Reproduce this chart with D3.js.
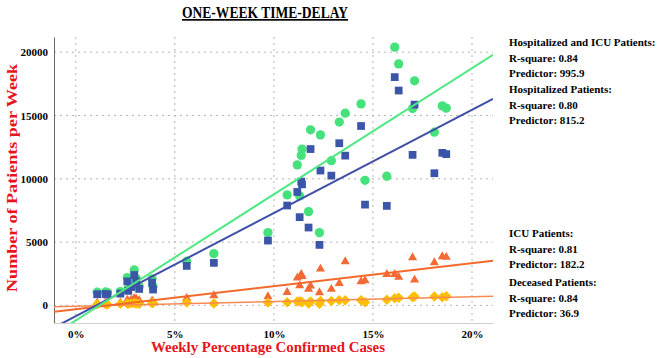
<!DOCTYPE html>
<html>
<head>
<meta charset="utf-8">
<script src="https://cdn.jsdelivr.net/npm/d3@7"></script>
<style>
  body { margin: 0; background: #fff; }
  text { font-family: "Liberation Serif", "Times New Roman", serif; font-weight: bold; }
</style>
</head>
<body>
<div id="chart"></div>
<script>
// weekly % confirmed cases (x) and patients per week for each series
var weekPct     = [1.08, 1.50, 1.60, 2.25, 2.60, 2.65, 2.80, 2.95, 3.05, 3.20, 3.85, 3.90, 5.60, 6.97, 9.70, 10.67,
                   11.18, 11.30, 11.38, 11.42, 11.75, 11.85, 12.30, 12.35, 12.90, 13.30, 13.60, 14.40, 14.60, 15.70,
                   16.10, 16.30, 17.00, 17.10, 18.10, 18.50, 18.70];
var hospIcu     = [1040, 1060, 1010, 1090, 2200, 1350, 1800, 2800, 2150, 1500, 2100, 1500, 3490, 4090, 5750, 8730,
                   11100, 8650, 11850, 12350, 7410, 13870, 5750, 13470, 11430, 14480, 15180, 15920, 9880, 10200,
                   20400, 19080, 15550, 17740, 13680, 15760, 15580];
var hospOnly    = [880, 900, 860, 930, 1900, 1150, 1450, 2400, 1900, 1300, 1800, 1250, 3120, 3360, 5120, 7890,
                   8960, 6970, 9780, 9560, 6150, 12350, 4780, 10650, 10250, 12810, 11830, 14170, 7960, 7860,
                   18030, 16970, 11890, 15860, 10440, 12050, 11950];
var icuOnly     = [200, 180, 170, 200, 430, 300, 450, 570, 500, 400, 350, 300, 570, 775, 695, 1030,
                   2170, 1560, 2460, 2300, 1280, 1540, 1010, 2880, 1280, 1750, 3460, 1880, 1960, 2460,
                   2460, 2230, 3780, 2010, 3380, 3860, 3810];
var deceased    = [100, 90, 80, 120, 150, 120, 160, 180, 150, 130, 170, 200, 230, 150, 220, 250,
                   300, 330, 280, 250, 150, 300, 120, 350, 350, 400, 400, 400, 250, 450,
                   570, 600, 650, 700, 700, 650, 720];

var seriesNames = ["Hospitalized and ICU Patients", "Hospitalized Patients", "ICU Patients", "Deceased Patients"];
var rSquare     = ["0.84", "0.80", "0.81", "0.84"];
var predictor   = [995.9, 815.2, 182.2, 36.9];
var intercept   = [-1190, -850, -300, -60];

var xTicks = [0, 5, 10, 15, 20];
var yTicks = [0, 5000, 10000, 15000, 20000];

var colors   = ["#45e27c", "#3b55a8", "#f26b36", "#ffbf00"];
var lineCols = ["#4fe882", "#3f4fa8", "#f3692c", "#f78a52"];

var plotL = 54, plotR = 493, plotT = 37, plotB = 323;

var svg = d3.select("#chart").append("svg")
    .attr("width", 660)
    .attr("height", 358);

var x = d3.scaleLinear().domain([-1.1, 21.06]).range([plotL, plotR]);
var y = d3.scaleLinear().domain([-1390, 21200]).range([plotB, plotT]);

svg.append("clipPath").attr("id", "plot")
  .append("rect").attr("x", plotL).attr("y", plotT).attr("width", plotR - plotL).attr("height", plotB - plotT);

// grid
svg.append("g").selectAll("line").data(yTicks).enter().append("line")
    .attr("x1", plotL).attr("x2", plotR)
    .attr("y1", function(d) { return y(d); }).attr("y2", function(d) { return y(d); })
    .attr("stroke", "#b5b5b5").attr("stroke-dasharray", "2,4");
svg.append("g").selectAll("line").data(xTicks).enter().append("line")
    .attr("x1", function(d) { return x(d); }).attr("x2", function(d) { return x(d); })
    .attr("y1", plotT).attr("y2", plotB)
    .attr("stroke", "#b5b5b5").attr("stroke-dasharray", "2,4");

// axes
var yAxis = svg.append("g")
    .attr("transform", `translate(${plotL},0)`)
    .call(d3.axisLeft(y).tickValues(yTicks).tickSize(0).tickPadding(6).tickFormat(d3.format("d")));
yAxis.select(".domain").attr("stroke", "#666");
yAxis.selectAll("text").attr("font-size", 11).attr("fill", "#000")
    .style("font-family", "'Liberation Serif', serif").style("font-weight", "bold");

var xAxis = svg.append("g")
    .attr("transform", `translate(0,${plotB})`)
    .call(d3.axisBottom(x).tickValues(xTicks).tickSize(0).tickPadding(7).tickFormat(function(d) { return d + "%"; }));
xAxis.select(".domain").attr("stroke", "#d0d0d0");
xAxis.selectAll("text").attr("font-size", 11).attr("fill", "#000")
    .style("font-family", "'Liberation Serif', serif").style("font-weight", "bold");

// points
var pts = svg.append("g");
var sym = [d3.symbolCircle, d3.symbolSquare, d3.symbolTriangle, d3.symbolDiamond2];
var sz  = [68, 60, 36, 70];
[hospIcu, hospOnly, icuOnly, deceased].forEach(function(vals, i) {
    pts.append("g").selectAll("path").data(vals).enter().append("path")
        .attr("d", d3.symbol().type(sym[i]).size(sz[i]))
        .attr("transform", function(d, j) { return `translate(${x(weekPct[j])},${y(d)})`; })
        .attr("fill", colors[i]);
});

// regression lines
var xr = x.domain();
var lines = svg.append("g").attr("clip-path", "url(#plot)");
[3, 2, 1, 0].forEach(function(i) {
    lines.append("line")
        .attr("x1", x(xr[0])).attr("y1", y(predictor[i] * xr[0] + intercept[i]))
        .attr("x2", x(xr[1])).attr("y2", y(predictor[i] * xr[1] + intercept[i]))
        .attr("stroke", lineCols[i]).attr("stroke-width", i == 3 ? 1.5 : 2);
});

// title
svg.append("text").attr("x", 265).attr("y", 18).attr("text-anchor", "middle")
    .attr("font-size", 17).attr("textLength", 166).attr("lengthAdjust", "spacingAndGlyphs")
    .attr("text-decoration", "underline").text("ONE-WEEK TIME-DELAY");

// axis titles
svg.append("text").attr("transform", "translate(17,178) rotate(-90)").attr("text-anchor", "middle")
    .attr("font-size", 15).attr("textLength", 228).attr("lengthAdjust", "spacingAndGlyphs")
    .attr("fill", "#e8141c").text("Number of Patients per Week");
svg.append("text").attr("x", 268).attr("y", 352).attr("text-anchor", "middle")
    .attr("font-size", 15).attr("textLength", 234).attr("lengthAdjust", "spacingAndGlyphs")
    .attr("fill", "#e8141c").text("Weekly Percentage Confirmed Cases");

// annotations
var annoY = [46, 93, 237, 286];
annoY.forEach(function(yy, i) {
    var t = svg.append("text").attr("x", 509).attr("font-size", 11).attr("fill", "#000");
    t.append("tspan").attr("x", 509).attr("y", yy).text(seriesNames[i] + ":");
    t.append("tspan").attr("x", 509).attr("y", yy + 15.5).text("R-square: " + rSquare[i]);
    t.append("tspan").attr("x", 509).attr("y", yy + 31).text("Predictor: " + predictor[i]);
});
</script>
</body>
</html>
